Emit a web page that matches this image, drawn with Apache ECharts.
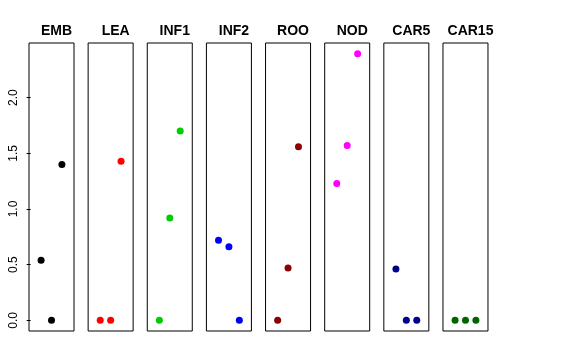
<!DOCTYPE html>
<html><head><meta charset="utf-8">
<script src="https://cdn.jsdelivr.net/npm/echarts@6/dist/echarts.min.js"></script>
<style>html,body{margin:0;padding:0;background:#fff}#c{width:576px;height:360px}</style>
</head><body><div id="c"></div>
<script>
const groups = ['EMB','LEA','INF1','INF2','ROO','NOD','CAR5','CAR15'];
const xPositions = [1, 2, 3];
const EMB = [0.54, 0.0, 1.40];
const LEA = [0.0, 0.0, 1.43];
const INF1 = [0.0, 0.92, 1.70];
const INF2 = [0.72, 0.66, 0.0];
const ROO = [0.0, 0.47, 1.56];
const NOD = [1.23, 1.57, 2.395];
const CAR5 = [0.46, 0.0, 0.0];
const CAR15 = [0.0, 0.0, 0.0];
const yTicks = [0, 0.5, 1.0, 1.5, 2.0];
const values = [EMB, LEA, INF1, INF2, ROO, NOD, CAR5, CAR15];
const colors = ['#000000','#FF0000','#00CD00','#0000FF','#8B0000','#FF00FF','#00008B','#006400'];

const yMin = -0.0958, yMax = 2.491;
const xMin = -0.16, xMax = 4.16;
const left0 = 29, step = 59.14, panelW = 45, panelTop = 43, panelH = 288;

const grid = [], xAxis = [], yAxis = [], series = [], title = [];
groups.forEach((g, i) => {
  const left = left0 + i * step;
  grid.push({left: left, top: panelTop, width: panelW, height: panelH, show: true, borderColor: '#000', borderWidth: 1, backgroundColor: 'transparent', containLabel: false});
  xAxis.push({gridIndex: i, type: 'value', min: xMin, max: xMax, show: false});
  const first = i === 0;
  yAxis.push({
    gridIndex: i, type: 'value', min: yMin, max: yMax, show: first,
    splitLine: {show: false},
    axisLine: {show: false},
    axisTick: {show: first, length: 4, lineStyle: {color: '#000'}, customValues: yTicks},
    axisLabel: {show: first, rotate: 90, margin: 9, color: '#000', fontSize: 12, fontFamily: 'Liberation Sans, Arial, sans-serif', customValues: yTicks, formatter: v => v.toFixed(1)}
  });
  series.push({
    type: 'scatter', xAxisIndex: i, yAxisIndex: i,
    symbol: 'circle', symbolSize: 7,
    itemStyle: {color: colors[i], opacity: 1},
    emphasis: {disabled: true},
    data: xPositions.map((x, k) => [x, values[i][k]]),
    animation: false
  });
  title.push({
    text: g, left: left + panelW / 2, top: 19, textAlign: 'center',
    textStyle: {fontSize: 14, fontWeight: 'bold', color: '#000', fontFamily: 'Liberation Sans, Arial, sans-serif'}
  });
});

const chart = echarts.init(document.getElementById('c'), null, {renderer: 'canvas'});
chart.setOption({animation: false, backgroundColor: '#fff', title, grid, xAxis, yAxis, series});
</script>
</body></html>
